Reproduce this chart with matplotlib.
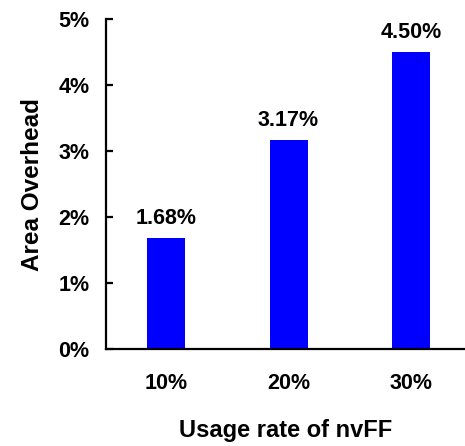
import matplotlib.pyplot as plt
from matplotlib.ticker import FuncFormatter
from matplotlib import font_manager

usage = ["10%", "20%", "30%"]
overhead = [1.68, 3.17, 4.50]
yticks = [0, 1, 2, 3, 4, 5]

names = {f.name for f in font_manager.fontManager.ttflist}
family = "Liberation Sans Narrow" if "Liberation Sans Narrow" in names else "Liberation Sans"
plt.rcParams["font.family"] = [family, "DejaVu Sans"]
plt.rcParams["font.weight"] = "bold"

fig = plt.figure(figsize=(4.65, 4.46), dpi=100)
ax = fig.add_axes([0.228, 0.2175, 0.772, 0.7395])

x = range(len(usage))
bars = ax.bar(x, overhead, width=0.31, color="#0000FF")
for b, v in zip(bars, overhead):
    ax.text(b.get_x() + b.get_width() / 2, v + 0.14, f"{v:.2f}%",
            ha="center", va="bottom", fontsize=15.5, fontweight="bold")

ax.set_xlim(-0.49, 2.44)
ax.set_ylim(0, 5)
ax.set_yticks(yticks)
ax.yaxis.set_major_formatter(FuncFormatter(lambda v, p: f"{v:.0f}%"))
ax.set_xticks(list(x))
ax.set_xticklabels(usage)

for s in ["top", "right"]:
    ax.spines[s].set_visible(False)
for s in ["left", "bottom"]:
    ax.spines[s].set_linewidth(1.6)

ax.tick_params(axis="y", direction="in", length=5, width=1.6, labelsize=15.5, pad=12)
ax.tick_params(axis="x", length=0, labelsize=15.5, pad=17)

ax.set_xlabel("Usage rate of nvFF", fontsize=17, fontweight="bold", labelpad=18)
ax.set_ylabel("Area Overhead", fontsize=17.5, fontweight="bold", labelpad=10)

fig.savefig("out.png", dpi=100)
